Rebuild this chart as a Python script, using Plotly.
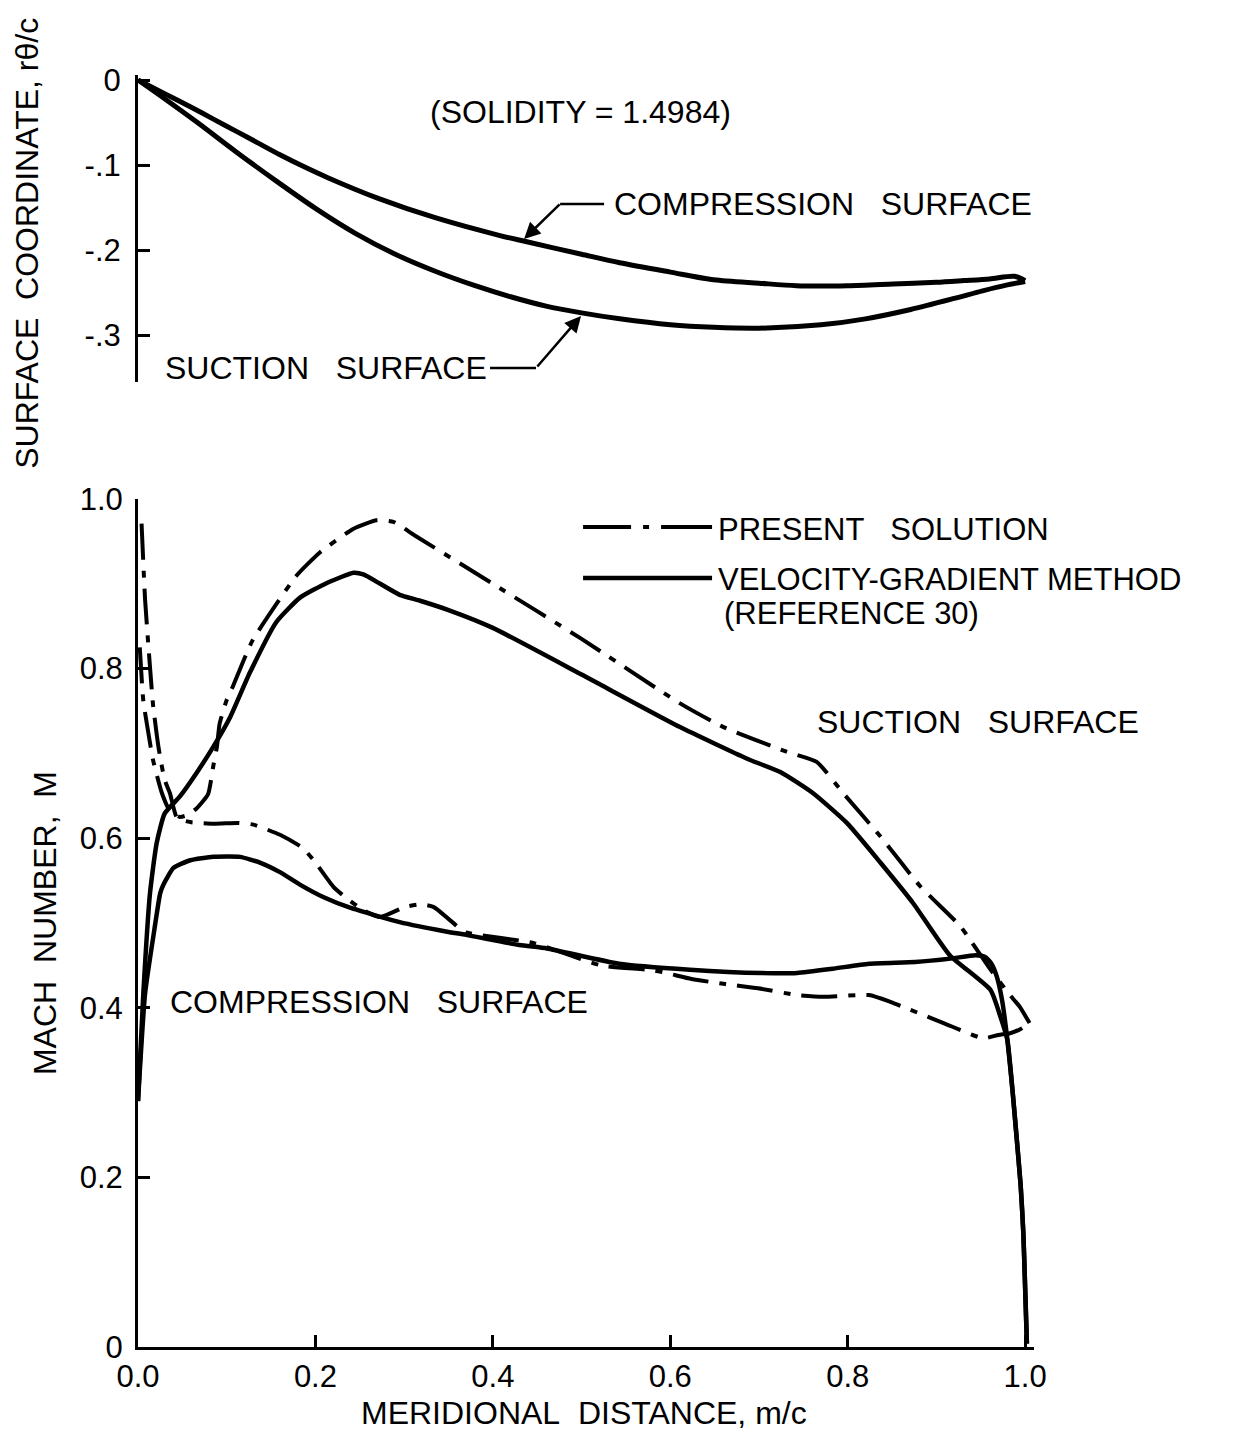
import plotly.graph_objects as go

# ---- Blade geometry (upper panel): surface coordinate r*theta/c vs m/c ----
comp_geom_x = [0, 0.03, 0.06, 0.085, 0.112, 0.135, 0.16, 0.185, 0.214, 0.27, 0.335, 0.408,
               0.437, 0.5, 0.543, 0.6, 0.649, 0.7, 0.742, 0.8, 0.851, 0.9, 0.931, 0.96,
               0.988, 1.0]
comp_geom_y = [0, -0.016, -0.032, -0.046, -0.061, -0.074, -0.088, -0.101, -0.115, -0.139,
               -0.162, -0.183, -0.190, -0.205, -0.215, -0.226, -0.235, -0.239, -0.242,
               -0.242, -0.240, -0.238, -0.236, -0.234, -0.231, -0.236]
suct_geom_x = [0, 0.03, 0.067, 0.11, 0.156, 0.2, 0.246, 0.29, 0.335, 0.38, 0.42, 0.46, 0.5,
               0.543, 0.6, 0.649, 0.7, 0.77, 0.82, 0.871, 0.92, 0.952, 0.98, 1.0]
suct_geom_y = [0, -0.022, -0.050, -0.084, -0.119, -0.151, -0.181, -0.205, -0.225, -0.242,
               -0.255, -0.266, -0.274, -0.281, -0.288, -0.291, -0.292, -0.288, -0.281,
               -0.270, -0.257, -0.248, -0.241, -0.237]

# ---- Mach number distributions (lower panel) ----
# velocity-gradient method, suction surface
vg_suct_x = [0, 0.006, 0.0135, 0.021, 0.03, 0.047, 0.066, 0.085, 0.104, 0.126, 0.156, 0.183,
             0.213, 0.243, 0.254, 0.273, 0.295, 0.318, 0.35, 0.4, 0.5, 0.611, 0.686, 0.724,
             0.761, 0.799, 0.837, 0.874, 0.915, 0.961, 0.972, 0.98, 0.986, 0.99, 0.995,
             0.998, 1.0, 1.002]
vg_suct_m = [0.29, 0.417, 0.535, 0.594, 0.629, 0.649, 0.677, 0.708, 0.743, 0.795, 0.855, 0.884,
             0.901, 0.913, 0.911, 0.9, 0.887, 0.880, 0.869, 0.848, 0.793, 0.731, 0.694, 0.678,
             0.653, 0.618, 0.571, 0.523, 0.462, 0.421, 0.39, 0.362, 0.30, 0.252, 0.19,
             0.134, 0.07, 0.004]
# velocity-gradient method, compression surface
vg_comp_x = [0, 0.008, 0.019, 0.025, 0.029, 0.04, 0.059, 0.085, 0.115, 0.138, 0.16, 0.183,
             0.21, 0.239, 0.295, 0.347, 0.37, 0.43, 0.461, 0.542, 0.622, 0.703, 0.743, 0.783,
             0.824, 0.876, 0.916, 0.944, 0.955, 0.962, 0.968, 0.974, 0.98, 0.986, 0.99,
             0.995, 0.998, 1.0, 1.002]
vg_comp_m = [0.29, 0.417, 0.496, 0.535, 0.546, 0.565, 0.574, 0.578, 0.578, 0.571, 0.56, 0.545,
             0.53, 0.518, 0.501, 0.49, 0.486, 0.474, 0.47, 0.452, 0.445, 0.441, 0.441, 0.446,
             0.452, 0.454, 0.458, 0.462, 0.46, 0.452, 0.437, 0.409, 0.362, 0.30, 0.252,
             0.19, 0.134, 0.07, 0.004]
# present solution, suction surface
ps_suct_x = [0.002, 0.006, 0.012, 0.017, 0.027, 0.036, 0.047, 0.055, 0.066, 0.079, 0.085,
             0.089, 0.092, 0.1, 0.107, 0.129, 0.179, 0.205, 0.243, 0.269, 0.288, 0.312, 0.4,
             0.5, 0.611, 0.66, 0.731, 0.765, 0.795, 0.837, 0.882, 0.927, 0.961, 0.983,
             0.994, 1.005]
ps_suct_m = [0.825, 0.762, 0.722, 0.692, 0.653, 0.632, 0.625, 0.627, 0.635, 0.652, 0.686,
             0.708, 0.735, 0.763, 0.779, 0.833, 0.910, 0.937, 0.965, 0.975, 0.973, 0.957, 0.900,
             0.835, 0.759, 0.731, 0.702, 0.690, 0.653, 0.602, 0.543, 0.496, 0.445, 0.415,
             0.401, 0.382]
# present solution, compression surface
ps_comp_x = [0.004, 0.008, 0.0135, 0.017, 0.023, 0.030, 0.036, 0.044, 0.059, 0.085, 0.113,
             0.13, 0.16, 0.185, 0.198, 0.22, 0.233, 0.254, 0.273, 0.301, 0.318, 0.333, 0.36,
             0.37, 0.447, 0.522, 0.582, 0.624, 0.662, 0.699, 0.743, 0.773, 0.824, 0.848,
             0.908, 0.953, 0.970, 0.983, 0.995, 1.005]
ps_comp_m = [0.971, 0.881, 0.802, 0.757, 0.708, 0.669, 0.653, 0.624, 0.619, 0.617, 0.618,
             0.616, 0.604, 0.589, 0.574, 0.543, 0.531, 0.515, 0.507, 0.519, 0.522, 0.519, 0.496,
             0.489, 0.476, 0.450, 0.444, 0.434, 0.428, 0.423, 0.415, 0.413, 0.415, 0.407,
             0.382, 0.364, 0.368, 0.370, 0.375, 0.382]

x_ticks = [0, 0.2, 0.4, 0.6, 0.8, 1.0]
x_ticktext = ["0.0", "0.2", "0.4", "0.6", "0.8", "1.0"]
m_ticks = [0, 0.2, 0.4, 0.6, 0.8, 1.0]
m_ticktext = ["0", "0.2", "0.4", "0.6", "0.8", "1.0"]
geom_ticks = [0, -0.1, -0.2, -0.3]
geom_ticktext = ["0", "-.1", "-.2", "-.3"]

FONT = "Liberation Sans, Arial, sans-serif"
BLACK = "black"
DASHDOT = "36px,11px,7px,11px"
SP = "\u00a0\u00a0\u00a0"
SP2 = "\u00a0\u00a0"

fig = go.Figure()

# upper panel: blade surfaces
for gx, gy in [(comp_geom_x, comp_geom_y), (suct_geom_x, suct_geom_y)]:
    fig.add_trace(go.Scatter(x=gx, y=gy, mode="lines", xaxis="x2", yaxis="y2",
                             line=dict(color=BLACK, width=5, shape="spline", smoothing=0.8),
                             hoverinfo="skip"))

# lower panel: Mach number distributions
for mx, mm in [(vg_suct_x, vg_suct_m), (vg_comp_x, vg_comp_m)]:
    fig.add_trace(go.Scatter(x=mx, y=mm, mode="lines", xaxis="x", yaxis="y",
                             line=dict(color=BLACK, width=4.5, shape="spline", smoothing=0.5),
                             hoverinfo="skip"))
for mx, mm in [(ps_suct_x, ps_suct_m), (ps_comp_x, ps_comp_m)]:
    fig.add_trace(go.Scatter(x=mx, y=mm, mode="lines", xaxis="x", yaxis="y",
                             line=dict(color=BLACK, width=4, dash=DASHDOT,
                                       shape="spline", smoothing=0.5),
                             hoverinfo="skip"))

axis_common = dict(showline=True, linecolor=BLACK, linewidth=3, ticks="inside",
                   ticklen=12, tickwidth=2.5, tickcolor=BLACK, showgrid=False,
                   zeroline=False, tickfont=dict(family=FONT, size=31, color=BLACK))

fig.update_layout(
    width=1234, height=1436,
    margin=dict(l=138, r=200, t=75, b=89),
    paper_bgcolor="white", plot_bgcolor="white",
    showlegend=False,
    xaxis=dict(domain=[0, 1], range=[0, 1.01], anchor="y", tickvals=x_ticks,
               ticktext=x_ticktext, ticklabelstandoff=0, **axis_common),
    yaxis=dict(domain=[0, 0.66667], range=[0, 1.0], anchor="x", tickvals=m_ticks,
               ticktext=m_ticktext, ticklabelstandoff=6, **axis_common),
    xaxis2=dict(domain=[0, 1], range=[0, 1.01], anchor="y2", visible=False),
    yaxis2=dict(domain=[0.75865, 1], range=[-0.3553, 0.0059], anchor="x2",
                tickvals=geom_ticks, ticktext=geom_ticktext, ticklabelstandoff=8,
                **axis_common),
)

txt = dict(family=FONT, size=32, color=BLACK)
key_txt = dict(family=FONT, size=31, color=BLACK)

annotations = [
    # upper panel labels
    dict(x=0.327, y=-0.0376, xref="x2", yref="y2", text="(SOLIDITY = 1.4984)",
         xanchor="left", yanchor="middle", showarrow=False, font=txt),
    dict(x=0.5344, y=-0.1459, xref="x2", yref="y2", text="COMPRESSION" + SP + "SURFACE",
         xanchor="left", yanchor="middle", showarrow=False, font=txt),
    dict(x=0.0282, y=-0.3388, xref="x2", yref="y2", text="SUCTION" + SP + "SURFACE",
         xanchor="left", yanchor="middle", showarrow=False, font=txt),
    # leader arrows
    dict(x=0.4352, y=-0.187, xref="x2", yref="y2", text="", showarrow=True,
         ax=37, ay=-36, arrowhead=2, arrowsize=1.3, arrowwidth=2.5, arrowcolor=BLACK),
    dict(x=0.4994, y=-0.2776, xref="x2", yref="y2", text="", showarrow=True,
         ax=-45, ay=52, arrowhead=2, arrowsize=1.3, arrowwidth=2.5, arrowcolor=BLACK),
    # lower panel labels
    dict(x=0.6516, y=0.9646, xref="x", yref="y", text="PRESENT" + SP + "SOLUTION",
         xanchor="left", yanchor="middle", showarrow=False, font=key_txt),
    dict(x=0.6516, y=0.9055, xref="x", yref="y", text="VELOCITY-GRADIENT METHOD",
         xanchor="left", yanchor="middle", showarrow=False, font=key_txt),
    dict(x=0.6584, y=0.8645, xref="x", yref="y", text="(REFERENCE 30)",
         xanchor="left", yanchor="middle", showarrow=False, font=key_txt),
    dict(x=0.7632, y=0.737, xref="x", yref="y", text="SUCTION" + SP + "SURFACE",
         xanchor="left", yanchor="middle", showarrow=False, font=txt),
    dict(x=0.0338, y=0.4068, xref="x", yref="y", text="COMPRESSION" + SP + "SURFACE",
         xanchor="left", yanchor="middle", showarrow=False, font=txt),
    # axis titles
    dict(x=-0.1038, y=0.3333, xref="paper", yref="paper",
         text="MACH" + SP2 + "NUMBER," + SP2 + "M",
         textangle=-90, xanchor="center", yanchor="middle", showarrow=False, font=txt),
    dict(x=-0.124, y=0.868, xref="paper", yref="paper",
         text="SURFACE" + SP2 + "COORDINATE, r\u03b8/c",
         textangle=-90, xanchor="center", yanchor="middle", showarrow=False, font=txt),
    dict(x=0.4978, y=-0.0515, xref="paper", yref="paper",
         text="MERIDIONAL" + SP2 + "DISTANCE, m/c",
         xanchor="center", yanchor="middle", showarrow=False, font=txt),
]

shapes = [
    # leader line stubs next to the upper-panel labels
    dict(type="line", xref="x2", yref="y2", x0=0.4758, x1=0.5254, y0=-0.1459, y1=-0.1459,
         line=dict(color=BLACK, width=2.5)),
    dict(type="line", xref="x2", yref="y2", x0=0.3968, x1=0.4487, y0=-0.3388, y1=-0.3388,
         line=dict(color=BLACK, width=2.5)),
    # key line samples
    dict(type="line", xref="x", yref="y", x0=0.5017, x1=0.6471, y0=0.967, y1=0.967,
         line=dict(color=BLACK, width=4, dash="48px,12px,6px,12px,60px")),
    dict(type="line", xref="x", yref="y", x0=0.5017, x1=0.6471, y0=0.9068, y1=0.9068,
         line=dict(color=BLACK, width=4.5)),
]

fig.update_layout(annotations=annotations, shapes=shapes)

fig.write_html("out.html")
